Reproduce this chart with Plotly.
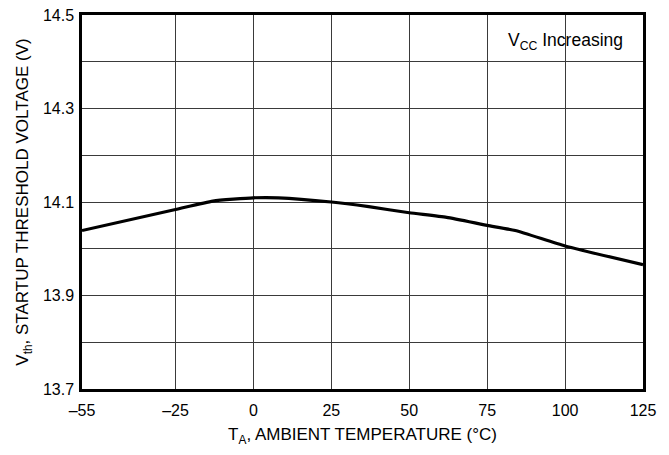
import plotly.graph_objects as go

# Data
temps = [-55, -25, -13, 0, 8, 25, 37, 50, 62, 75, 84, 100, 125]
vth = [14.039, 14.084, 14.102, 14.109, 14.109, 14.100, 14.090, 14.077, 14.067, 14.050, 14.039, 14.006, 13.966]

x_ticks = [-55, -25, 0, 25, 50, 75, 100, 125]
x_ticktext = ["\u201355", "\u201325", "0", "25", "50", "75", "100", "125"]
y_ticks = [13.7, 13.9, 14.1, 14.3, 14.5]
y_ticktext = ["13.7", "13.9", "14.1", "14.3", "14.5"]
y_minor = [13.8, 14.0, 14.2, 14.4]

FONT = "Liberation Sans, Arial, sans-serif"
GRID = "#3a3a3a"

fig = go.Figure()
fig.add_trace(go.Scatter(
    x=temps, y=vth, mode="lines",
    line=dict(color="black", width=3.2, shape="spline", smoothing=0.5),
    showlegend=False, hoverinfo="skip",
))

fig.add_annotation(
    x=0.968, y=0.928, xref="paper", yref="paper",
    text="V<sub>CC</sub> Increasing", showarrow=False,
    xanchor="right", yanchor="middle",
    font=dict(family=FONT, size=17.5, color="black"),
)

# page body has a default 8px margin; compensate in figure size/margins
fig.update_layout(
    width=661, height=447,
    margin=dict(l=74, r=26, t=7, b=66),
    paper_bgcolor="white", plot_bgcolor="white",
    font=dict(family=FONT, size=16, color="black"),
    xaxis=dict(
        range=[-55, 125], tickvals=x_ticks, ticktext=x_ticktext,
        showgrid=True, gridcolor=GRID, gridwidth=1.2,
        showline=True, linecolor="black", linewidth=2.5, mirror=True,
        ticks="", zeroline=False, automargin=False,
        ticklabelstandoff=5, ticklabeloverflow="allow",
        tickfont=dict(family=FONT, size=16),
        title=dict(text="T<sub>A</sub>, AMBIENT TEMPERATURE (\u00b0C)",
                   font=dict(family=FONT, size=17), standoff=11),
    ),
    yaxis=dict(
        range=[13.7, 14.5], tickvals=y_ticks, ticktext=y_ticktext,
        showgrid=True, gridcolor=GRID, gridwidth=1.2,
        minor=dict(tickvals=y_minor, showgrid=True, gridcolor=GRID, gridwidth=1.2, ticks=""),
        showline=True, linecolor="black", linewidth=2.5, mirror=True,
        ticks="", zeroline=False, automargin=False,
        ticklabelstandoff=2, ticklabeloverflow="allow",
        tickfont=dict(family=FONT, size=16),
        title=dict(text="V<sub>th</sub>, STARTUP THRESHOLD VOLTAGE (V)",
                   font=dict(family=FONT, size=17), standoff=10),
    ),
)

fig.write_html("out.html")
